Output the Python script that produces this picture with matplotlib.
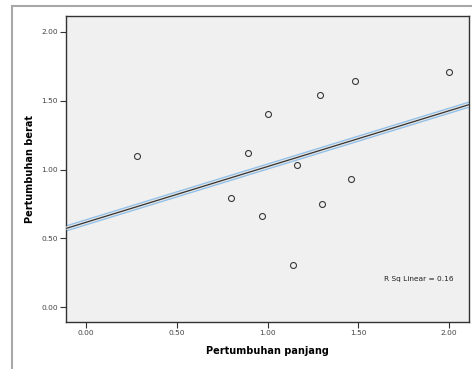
import numpy as np
import matplotlib.pyplot as plt
from matplotlib.lines import Line2D

# values
panjang = [0.28, 0.80, 0.89, 0.97, 1.00, 1.14, 1.16, 1.29, 1.30, 1.46, 1.48, 2.00]
berat   = [1.10, 0.79, 1.12, 0.66, 1.40, 0.31, 1.03, 1.54, 0.75, 0.93, 1.64, 1.71]
xticks = [0.0, 0.5, 1.0, 1.5, 2.0]
yticks = [0.0, 0.5, 1.0, 1.5, 2.0]
r2_label = "R Sq Linear = 0.16"

x = np.array(panjang)
y = np.array(berat)
slope, icpt = np.polyfit(x, y, 1)

fig = plt.figure(figsize=(4.72, 3.69), dpi=100)
fig.patch.set_facecolor('white')
ax = fig.add_axes([0.1398, 0.1282, 0.8538, 0.8293])
ax.set_facecolor('#f0f0f0')

xlim = (-0.112, 2.109)
ylim = (-0.104, 2.116)
ax.set_xlim(*xlim)
ax.set_ylim(*ylim)

# fit line: blue outline, gray gap, dark core
xx = np.array(xlim)
yy = icpt + slope * xx
ax.plot(xx, yy, color='#8fc0ea', lw=4.4, solid_capstyle='round', zorder=2)
ax.plot(xx, yy, color='#e4e4e4', lw=2.6, solid_capstyle='butt', zorder=3)
ax.plot(xx, yy, color='#333333', lw=0.9, zorder=4)

ax.plot(x, y, 'o', ms=4.3, mfc='none', mec='#3a3a3a', mew=0.8, zorder=5)

ax.text(1.642, 0.203, r2_label, fontsize=5.3, color='#222222',
        ha='left', va='center')

ax.set_xticks(xticks)
ax.set_yticks(yticks)
ax.set_xticklabels([f"{v:.2f}" for v in xticks])
ax.set_yticklabels([f"{v:.2f}" for v in yticks])
ax.tick_params(axis='both', labelsize=5.4, labelcolor='#444444',
               color='#333333', length=4, width=0.8, direction='out', pad=2)
for s in ax.spines.values():
    s.set_color('#333333')
    s.set_linewidth(1.0)

ax.set_xlabel("Pertumbuhan panjang", fontsize=7, fontweight='bold', labelpad=7)
ax.set_ylabel("Pertumbuhan berat", fontsize=7, fontweight='bold', labelpad=4)

# outer viewer frame
fig.add_artist(Line2D([0.0248, 1.0], [0.984, 0.984], color='#a8a8a8', lw=1.5,
                      transform=fig.transFigure))
fig.add_artist(Line2D([0.0248, 0.0248], [0.0, 0.984], color='#a8a8a8', lw=1.5,
                      transform=fig.transFigure))

fig.savefig("out.png", dpi=100)
